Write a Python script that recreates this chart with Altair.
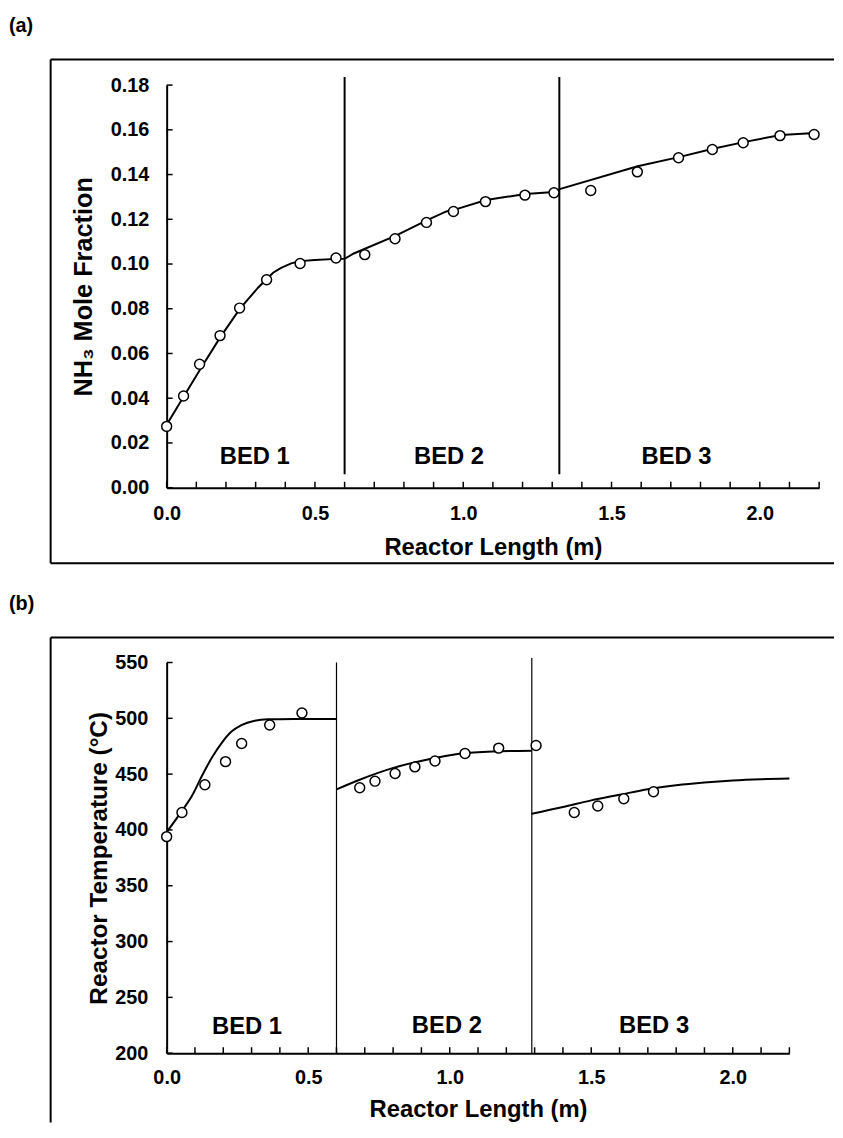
import altair as alt
import pandas as pd

FONT = "Liberation Sans"

# ---------------- data: panel (a) ----------------
a_line_x = [0, 0.057, 0.118, 0.181, 0.246, 0.308, 0.338, 0.36, 0.386, 0.42, 0.45, 0.5, 0.572, 0.6,
            0.631, 0.771, 0.877, 0.943, 0.969, 1.077, 1.209, 1.307, 1.325,
            1.588, 1.727, 1.842, 1.946, 2.071, 2.186, 2.2]
a_line_y = [0.0281, 0.0407, 0.054, 0.0673, 0.0798, 0.0894, 0.0934, 0.0962, 0.0983, 0.1003, 0.1013,
            0.1018, 0.1023, 0.1023,
            0.1047, 0.1126, 0.1195, 0.1235, 0.1242, 0.1286, 0.1313, 0.1322, 0.1335,
            0.1437, 0.1478, 0.1515, 0.1545, 0.1577, 0.1586, 0.1587]
a_pts_x = [0, 0.057, 0.111, 0.180, 0.246, 0.337, 0.450, 0.571, 0.668, 0.770, 0.876,
           0.967, 1.075, 1.208, 1.306, 1.430, 1.587, 1.726, 1.840, 1.944, 2.068, 2.183]
a_pts_y = [0.0274, 0.041, 0.0552, 0.068, 0.0803, 0.093, 0.1002, 0.1027, 0.1042, 0.1113, 0.1186,
           0.1235, 0.1279, 0.1308, 0.1319, 0.1329, 0.1412, 0.1475, 0.1512, 0.1542, 0.1574, 0.1579]
a_bed_x = [0.6, 1.324]
a_bed_y1 = [0.006, 0.006]
a_bed_y2 = [0.1836, 0.1836]
a_lab_text = ["BED 1", "BED 2", "BED 3"]
a_lab_x = [0.297, 0.952, 1.719]
a_lab_y = [0.0106, 0.0106, 0.0106]
a_yticks = [0, 0.02, 0.04, 0.06, 0.08, 0.10, 0.12, 0.14, 0.16, 0.18]

# ---------------- data: panel (b) ----------------
b1_x = [0, 0.054, 0.089, 0.124, 0.159, 0.194, 0.229, 0.264, 0.311, 0.357, 0.45, 0.6]
b1_t = [398, 417.1, 430.4, 448.1, 464.4, 477.8, 488.1, 494, 497.9, 499.1, 499.3, 499.4]
b2_x = [0.6, 0.684, 0.801, 0.918, 1.034, 1.151, 1.29]
b2_t = [436.3, 445.2, 455.6, 462.9, 468.3, 470.3, 470.9]
b3_x = [1.29, 1.4, 1.5, 1.6, 1.7, 1.8, 1.9, 2.0, 2.1, 2.2]
b3_t = [414.5, 420.5, 426.5, 431.5, 436.5, 440, 442.5, 444.3, 445.4, 446]
b_pts_x = [0, 0.054, 0.135, 0.208, 0.265, 0.364, 0.478, 0.682, 0.736, 0.807, 0.877, 0.948,
           1.054, 1.173, 1.305, 1.44, 1.523, 1.615, 1.72]
b_pts_t = [394, 415.6, 440.5, 461.2, 477.4, 494, 504.7, 437.8, 443.7, 450.5, 456.5, 461.8,
           468.5, 473.3, 475.6, 415.6, 421.5, 428, 434.2]
b_bed_x = [0.6, 1.29]
b_bed_y1 = [200, 200]
b_bed_y2 = [550, 554]
b_lab_text = ["BED 1", "BED 2", "BED 3"]
b_lab_x = [0.284, 0.99, 1.722]
b_lab_t = [217.5, 218.5, 218.5]
b_yticks = [200, 250, 300, 350, 400, 450, 500, 550]

x_labels = [0, 0.5, 1.0, 1.5, 2.0]
x_minor = [round(i * 0.1, 1) for i in range(23)]

one = pd.DataFrame({"k": [0]})


def rule(**enc):
    return alt.Chart(one).mark_rule(color="black", strokeWidth=2).encode(**enc)


def anchor(y):
    # invisible 1px box that fixes the layout bounds of a panel
    return alt.Chart(one).mark_rect(opacity=0, fill="white").encode(
        x=alt.value(-160), x2=alt.value(-159), y=alt.value(y), y2=alt.value(y + 0.5))


def panel(W, H, ydom, yticks, yfmt, ytitle, ytitle_size, ytitle_x, ylab_pad, xlab_pad, xtitle_y,
          line_df, interp, pts_df, bed_df, bed_w, lab_df, tag, frame_top, frame_bottom,
          anchor_top, anchor_bottom):
    xs = alt.Scale(domain=[0, 2.2], nice=False, zero=False)
    ys = alt.Scale(domain=ydom, nice=False, zero=False)
    xax = alt.Axis(values=x_labels, format=".1f", ticks=False, tickSize=0, grid=False,
                   domainColor="black", domainWidth=2,
                   labelFont=FONT, labelFontSize=20, labelFontWeight="bold", labelColor="black",
                   labelPadding=xlab_pad, labelFlush=False,
                   title="Reactor Length (m)", titleFont=FONT, titleFontSize=24,
                   titleFontWeight="bold", titleColor="black", titleY=xtitle_y,
                   titleBaseline="alphabetic")
    yax = alt.Axis(values=yticks, format=yfmt, ticks=False, tickSize=0, grid=False,
                   domainColor="black", domainWidth=2,
                   labelFont=FONT, labelFontSize=20, labelFontWeight="bold", labelColor="black",
                   labelPadding=ylab_pad, labelFlush=False,
                   title=ytitle, titleFont=FONT, titleFontSize=ytitle_size, titleFontWeight="bold",
                   titleColor="black", titleX=ytitle_x, titleY=H / 2, titleAngle=270,
                   titleBaseline="alphabetic")

    def X(f):
        return alt.X(f, type="quantitative", scale=xs, axis=xax)

    def Y(f):
        return alt.Y(f, type="quantitative", scale=ys, axis=yax)

    layers = [anchor(anchor_top)]
    if anchor_bottom is not None:
        layers.append(anchor(anchor_bottom))
    # figure frame (left, top, optional bottom)
    layers.append(rule(x=alt.value(-117), y=alt.value(frame_top), y2=alt.value(frame_bottom)))
    layers.append(rule(x=alt.value(-117), x2=alt.value(673), y=alt.value(frame_top)))
    if anchor_bottom is not None:
        layers.append(rule(x=alt.value(-117), x2=alt.value(673), y=alt.value(frame_bottom)))

    xt = pd.DataFrame({"x": x_minor})
    layers.append(alt.Chart(xt).mark_rule(color="black", strokeWidth=1.5).encode(
        x=X("x"), y=alt.value(H), y2=alt.value(H - 6)))
    yt = pd.DataFrame({"y": yticks})
    layers.append(alt.Chart(yt).mark_rule(color="black", strokeWidth=1.5).encode(
        y=Y("y"), x=alt.value(0), x2=alt.value(6)))

    layers.append(alt.Chart(bed_df).mark_rule(color="black", strokeWidth=bed_w).encode(
        x=X("x"), y=Y("y1"), y2="y2:Q"))
    layers.append(alt.Chart(line_df).mark_line(color="black", strokeWidth=2,
                                               interpolate=interp).encode(
        x=X("x"), y=Y("y"), detail="seg:N"))
    layers.append(alt.Chart(pts_df).mark_point(shape="circle", size=100, filled=False,
                                               fill="white", fillOpacity=1, opacity=1,
                                               stroke="black", strokeWidth=1.5).encode(
        x=X("x"), y=Y("y")))
    layers.append(alt.Chart(lab_df).mark_text(font=FONT, fontSize=24, fontWeight="bold",
                                              color="black", baseline="alphabetic",
                                              align="center").encode(
        x=X("x"), y=Y("y"), text="t:N"))
    layers.append(alt.Chart(one).mark_text(font=FONT, fontSize=20, fontWeight="bold",
                                           color="black", baseline="alphabetic",
                                           align="left").encode(
        x=alt.value(-159), y=alt.value(frame_top - 28), text=alt.value(tag)))
    return alt.layer(*layers).properties(width=W, height=H)


a_line_df = pd.DataFrame({"x": a_line_x, "y": a_line_y, "seg": ["a"] * len(a_line_x)})
a_pts_df = pd.DataFrame({"x": a_pts_x, "y": a_pts_y})
a_bed_df = pd.DataFrame({"x": a_bed_x, "y1": a_bed_y1, "y2": a_bed_y2})
a_lab_df = pd.DataFrame({"x": a_lab_x, "y": a_lab_y, "t": a_lab_text})

b_line_df = pd.DataFrame({
    "x": b1_x + b2_x + b3_x,
    "y": b1_t + b2_t + b3_t,
    "seg": ["1"] * len(b1_x) + ["2"] * len(b2_x) + ["3"] * len(b3_x)})
b_pts_df = pd.DataFrame({"x": b_pts_x, "y": b_pts_t})
b_bed_df = pd.DataFrame({"x": b_bed_x, "y1": b_bed_y1, "y2": b_bed_y2})
b_lab_df = pd.DataFrame({"x": b_lab_x, "y": b_lab_t, "t": b_lab_text})

# panel (a): plot area 658x406 at page (168, 80.7)
top = panel(658, 406, [0, 0.18], a_yticks, ".2f", "NH₃ Mole Fraction", 25.5, -76, 18, 16, 67,
            a_line_df, "linear", a_pts_df, a_bed_df, 2, a_lab_df, "(a)",
            -25.7, 482.3, -72.7, 490)
# panel (b): plot area 628x394 at page (168, 662)
bottom = panel(628, 394, [200, 550], b_yticks, "d", "Reactor Temperature (°C)", 24.5, -61, 19, 14.5, 64,
               b_line_df, "monotone", b_pts_df, b_bed_df, 1.2, b_lab_df, "(b)",
               -25.3, 464, -80, None)

chart = alt.vconcat(top, bottom, spacing=11.3).properties(
    padding={"left": 0, "top": 0, "right": 0, "bottom": 0}
).configure_view(stroke=None)

chart.save("out.html", embed_options={"renderer": "svg", "actions": False})
